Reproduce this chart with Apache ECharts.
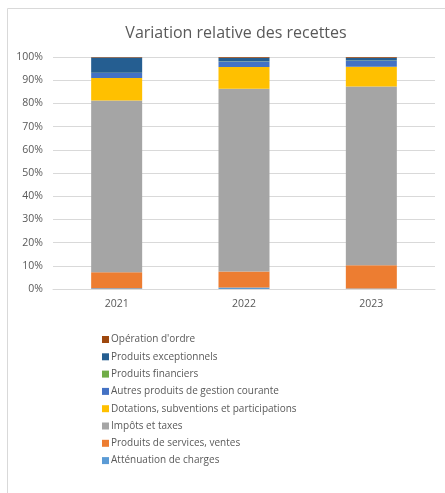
<!DOCTYPE html>
<html><head><meta charset="utf-8">
<script src="https://cdn.jsdelivr.net/npm/echarts@6/dist/echarts.min.js"></script>
<style>html,body{margin:0;padding:0;background:#fff}#c{width:445px;height:493px}</style>
</head><body><div id="c"></div>
<script>
const categories = ['2021', '2022', '2023'];
const yTicks = ['0%','10%','20%','30%','40%','50%','60%','70%','80%','90%','100%'];
// values in percent of total receipts
const attenuation = [0.3, 0.7, 0.2];
const produitsServices = [6.9, 6.8, 10.0];
const impots = [74.0, 78.8, 77.1];
const dotations = [9.7, 9.4, 8.5];
const autresProduits = [2.2, 2.4, 2.6];
const produitsFinanciers = [0.1, 0.1, 0.1];
const exceptionnels = [6.6, 1.5, 1.2];
const operationOrdre = [0.2, 0.3, 0.3];

const seriesDefs = [
  ['Atténuation de charges', attenuation, '#5B9BD5'],
  ['Produits de services, ventes', produitsServices, '#ED7D31'],
  ['Impôts et taxes', impots, '#A5A5A5'],
  ['Dotations, subventions et participations', dotations, '#FFC000'],
  ['Autres produits de gestion courante', autresProduits, '#4472C4'],
  ['Produits financiers', produitsFinanciers, '#70AD47'],
  ['Produits exceptionnels', exceptionnels, '#255E91'],
  ["Opération d'ordre", operationOrdre, '#9E480E']
];
const chart = echarts.init(document.getElementById('c'), null, {renderer:'canvas'});
const font = "'Open Sans', 'Liberation Sans', sans-serif";
chart.setOption({
  animation: false,
  title: {text: 'Variation relative des recettes', left: 231, textAlign: 'center', top: 20,
    textStyle: {fontFamily: font, fontSize: 16, fontWeight: 'normal', color: '#595959'}},
  graphic: [{type: 'rect', shape: {x: 7.5, y: 8.5, width: 470, height: 520},
    style: {fill: 'none', stroke: '#d9d9d9', lineWidth: 1}, silent: true}],
  grid: {left: 53, right: 10, top: 57, bottom: 204, containLabel: false},
  legend: {orient: 'vertical', left: 97, top: 328, itemWidth: 7, itemHeight: 7, itemGap: 4.3,
    icon: 'rect',
    data: seriesDefs.map(s => s[0]).reverse(),
    textStyle: {fontFamily: font, fontSize: 10, color: '#595959', padding: [0,0,0,-3], lineHeight: 13}},
  xAxis: {type: 'category', data: categories,
    axisLine: {lineStyle: {color: '#d9d9d9'}}, axisTick: {show: false},
    axisLabel: {fontFamily: font, fontSize: 10.5, color: '#595959', margin: 10}},
  yAxis: {type: 'value', min: 0, max: 100, interval: 10,
    axisLabel: {fontFamily: font, fontSize: 10.5, color: '#595959', margin: 10,
      formatter: v => yTicks[Math.round(v / 10)]},
    splitLine: {lineStyle: {color: '#d9d9d9'}}, axisLine: {show: false}, axisTick: {show: false}},
  series: seriesDefs.map(s => ({name: s[0], type: 'bar', stack: 'total', data: s[1], barWidth: 51,
    itemStyle: {color: s[2]}}))
});
</script></body></html>
